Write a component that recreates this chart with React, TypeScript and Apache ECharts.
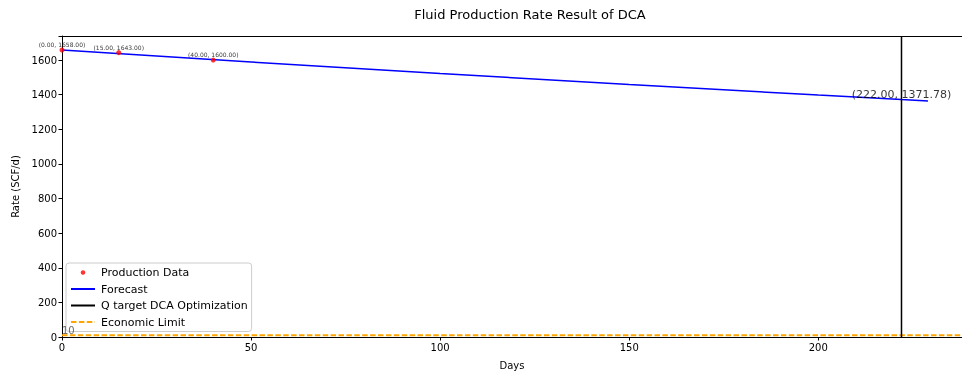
import React, { useEffect, useRef } from "react";
import * as echarts from "echarts";

const title = "Fluid Production Rate Result of DCA";
const prodDays = [0, 15, 40];
const prodRates = [1658, 1643, 1600];
const forecastDays = [0, 50, 100, 150, 200, 222, 229];
const forecastRates = [1658, 1589, 1522, 1459, 1398, 1371.78, 1364];
const qTargetDay = 222;
const qTargetRate = 1371.78;
const economicLimit = 10;
const xMin = 0;
const xMax = 238;
const yMin = 0;
const yMax = 1739;

const FONT = "DejaVu Sans, sans-serif";

export default function App() {
  const ref = useRef<HTMLDivElement>(null);
  useEffect(() => {
    document.body.style.margin = "0";
    const chart = echarts.init(ref.current!, null, { renderer: "svg" });
    const axisCommon = {
      axisLine: { show: true, lineStyle: { color: "#000", width: 1 } },
      axisTick: { show: true, length: 3.5, lineStyle: { color: "#000" } },
      axisLabel: { color: "#000", fontSize: 10, fontFamily: FONT, margin: 5 },
      splitLine: { show: false },
    };
    const hideSym = { itemStyle: { opacity: 0 } };
    chart.setOption({
      animation: false,
      textStyle: { fontFamily: FONT },
      graphic: [
        {
          type: "text",
          x: 530,
          y: 8,
          style: { text: title, fontSize: 13, fontFamily: FONT, fill: "#000", textAlign: "center" },
        },
      ],
      grid: { left: 62, right: 0, top: 36, bottom: 37, containLabel: false, outerBoundsMode: "none" },
      legend: {
        orient: "vertical",
        left: 66,
        top: 263,
        data: [
          { name: "Production Data", icon: "circle" },
          { name: "Forecast", ...hideSym },
          { name: "Q target DCA Optimization", ...hideSym },
          { name: "Economic Limit", ...hideSym },
        ],
        itemWidth: 24,
        itemHeight: 4.5,
        itemGap: 5.5,
        padding: [4, 4, 4, 4],
        backgroundColor: "rgba(255,255,255,0.8)",
        borderColor: "#ccc",
        borderWidth: 1,
        borderRadius: 3,
        textStyle: { fontSize: 11, fontFamily: FONT, color: "#000", padding: [0, 0, 0, 1] },
      },
      xAxis: [
        {
          type: "value",
          min: xMin,
          max: xMax,
          interval: 50,
          name: "Days",
          nameLocation: "middle",
          nameGap: 23,
          nameTextStyle: { fontSize: 10, fontFamily: FONT, color: "#000" },
          ...axisCommon,
          axisLabel: {
            ...axisCommon.axisLabel,
            formatter: (v: number) => (v % 50 === 0 ? String(v) : ""),
          },
        },
        {
          type: "value",
          position: "top",
          min: xMin,
          max: xMax,
          axisLine: { show: true, lineStyle: { color: "#000", width: 1 } },
          axisTick: { show: false },
          axisLabel: { show: false },
          splitLine: { show: false },
        },
      ],
      yAxis: {
        type: "value",
        min: yMin,
        max: yMax,
        interval: 200,
        name: "Rate (SCF/d)",
        nameLocation: "middle",
        nameGap: 41,
        nameTextStyle: { fontSize: 10, fontFamily: FONT, color: "#000" },
        ...axisCommon,
        axisLabel: {
          ...axisCommon.axisLabel,
          formatter: (v: number) => (v > 1600 ? "" : String(v)),
        },
      },
      series: [
        {
          name: "Economic Limit",
          type: "line",
          symbol: "none",
          data: [
            [xMin, economicLimit],
            [xMax, economicLimit],
          ],
          lineStyle: { color: "#FFA500", width: 2, type: [5.5, 2.4] },
          itemStyle: { color: "#FFA500" },
          z: 3,
        },
        {
          name: "Forecast",
          type: "line",
          symbol: "none",
          data: forecastDays.map((d, i) => [d, forecastRates[i]]),
          lineStyle: { color: "#0000FF", width: 1.5 },
          itemStyle: { color: "#0000FF" },
          z: 3,
        },
        {
          name: "Q target DCA Optimization",
          type: "line",
          symbol: "none",
          data: [
            [qTargetDay, yMin],
            [qTargetDay, yMax],
          ],
          lineStyle: { color: "#000", width: 1.5 },
          itemStyle: { color: "#000" },
          z: 4,
        },
        {
          name: "Production Data",
          type: "scatter",
          symbol: "circle",
          symbolSize: 5,
          data: prodDays.map((d, i) => [d, prodRates[i]]),
          itemStyle: { color: "#FF0000" },
          label: {
            show: true,
            position: "top",
            distance: 0,
            fontSize: 6,
            fontFamily: FONT,
            color: "#000",
            formatter: (p: any) => `(${p.value[0].toFixed(2)}, ${p.value[1].toFixed(2)})`,
          },
          z: 5,
        },
        {
          name: "qtarget-label",
          type: "scatter",
          symbolSize: 0,
          data: [[qTargetDay, qTargetRate]],
          label: {
            show: true,
            position: "top",
            distance: 0,
            fontSize: 11,
            fontFamily: FONT,
            color: "#000",
            formatter: (p: any) => `(${p.value[0].toFixed(2)}, ${p.value[1].toFixed(2)})`,
          },
          z: 6,
        },
        {
          name: "elimit-label",
          type: "scatter",
          symbolSize: 0,
          data: [[xMin, economicLimit]],
          label: {
            show: true,
            position: "top",
            align: "left",
            distance: 0,
            fontSize: 10,
            fontFamily: FONT,
            color: "#444",
            formatter: () => String(economicLimit),
          },
          z: 6,
        },
      ],
    });
    return () => chart.dispose();
  }, []);
  return <div ref={ref} style={{ position: "fixed", left: 0, top: 0, width: 962, height: 374 }} />;
}
